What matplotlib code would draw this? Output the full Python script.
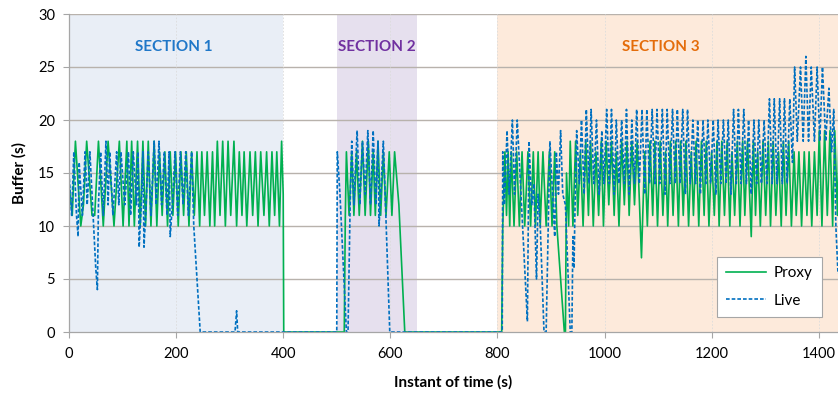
import matplotlib
matplotlib.use('Agg')  # no display
import matplotlib.pyplot as plt
from matplotlib import rcParams

rcParams['font.family'] = ['Lato', 'DejaVu Sans']

# ---- data (time s, buffer s) ----
proxy_s1 = [(0, 14), (6, 11), (12, 18), (22, 10), (27, 12), (33, 18), (43, 11), (48, 11),
            (55, 18), (64, 10), (73, 18), (84, 10), (94, 18), (101, 10), (108, 18), (112, 10),
            (117, 18), (122, 10), (128, 18), (133, 10), (138, 18), (143, 10), (148, 18), (153, 10),
            (159, 18), (164, 10), (169, 17), (174, 11), (179, 17), (184, 10), (189, 17), (194, 11),
            (199, 17), (204, 10), (209, 17), (214, 11), (219, 17), (224, 10), (229, 17), (234, 11),
            (239, 17), (244, 10), (248, 17), (253, 11), (258, 17), (263, 10), (268, 17), (272, 10),
            (277, 18), (282, 11), (287, 18), (292, 10), (297, 18), (302, 11), (308, 18), (313, 10),
            (318, 17), (323, 11), (327, 17), (332, 10), (338, 17), (343, 11), (348, 17), (353, 10),
            (358, 17), (364, 11), (369, 17), (374, 10), (379, 17), (384, 11), (388, 17), (393, 10),
            (397, 18), (400, 13), (401, 0)]
proxy_s2 = [(514, 0), (516, 11), (518, 17), (523, 11), (528, 17), (532, 11), (537, 17), (542, 11),
            (548, 18), (553, 11), (559, 18), (563, 11), (568, 17), (572, 11), (577, 18), (582, 11),
            (587, 17), (592, 11), (598, 17), (603, 11), (608, 17), (616, 12), (627, 0)]
proxy_s3 = [(808, 0), (810, 10), (814, 17), (817, 11), (820, 17), (823, 10), (826, 17), (831, 10),
            (836, 17), (841, 10), (846, 17), (851, 10), (857, 17), (862, 10), (867, 17), (871, 10),
            (876, 17), (880, 10), (885, 17), (891, 10), (897, 17), (902, 10), (907, 17), (911, 10),
            (925, 0), (927, 0), (929, 15), (933, 10), (936, 18), (941, 10), (946, 18), (950, 11),
            (955, 17), (960, 10), (965, 18), (970, 11), (974, 18), (979, 10), (984, 17), (989, 11),
            (994, 18), (998, 10), (1003, 18), (1008, 12), (1013, 18), (1018, 11), (1022, 17), (1027, 10),
            (1032, 18), (1037, 12), (1042, 18), (1046, 11), (1051, 18), (1056, 12), (1061, 18), (1069, 7),
            (1075, 17), (1080, 10), (1085, 18), (1090, 11), (1094, 18), (1099, 10), (1104, 18), (1109, 11),
            (1114, 17), (1118, 10), (1123, 18), (1128, 11), (1133, 18), (1138, 10), (1142, 18), (1147, 11),
            (1152, 18), (1157, 10), (1162, 17), (1166, 11), (1171, 18), (1176, 10), (1181, 18), (1186, 11),
            (1190, 18), (1195, 10), (1200, 17), (1205, 11), (1210, 18), (1214, 10), (1219, 18), (1224, 11),
            (1229, 18), (1234, 10), (1238, 17), (1243, 11), (1248, 18), (1253, 10), (1258, 18), (1262, 11),
            (1267, 18), (1274, 9), (1278, 18), (1282, 11), (1286, 17), (1291, 10), (1296, 18), (1301, 11),
            (1306, 18), (1310, 10), (1315, 18), (1320, 11), (1325, 17), (1330, 10), (1334, 18), (1339, 11),
            (1344, 18), (1349, 10), (1354, 17), (1358, 11), (1363, 17), (1368, 10), (1373, 17), (1378, 11),
            (1382, 17), (1387, 10), (1392, 17), (1397, 11), (1401, 19), (1406, 10), (1411, 19), (1416, 11),
            (1421, 19), (1426, 10), (1430, 19), (1435, 11), (1438, 19)]

live_s1 = [(0, 15), (5, 11), (9, 17), (14, 11), (17, 9), (19, 16), (25, 11), (30, 17), (34, 12),
           (39, 17), (45, 11), (50, 6), (53, 4), (55, 12), (59, 17), (64, 11), (69, 18), (73, 12),
           (76, 17), (82, 11), (89, 17), (93, 12), (97, 17), (104, 12), (111, 17), (115, 11), (120, 17),
           (126, 12), (129, 17), (131, 8), (135, 12), (138, 17), (140, 8), (144, 12), (148, 17), (153, 11),
           (159, 18), (163, 12), (168, 18), (173, 12), (178, 17), (183, 11), (187, 17), (189, 9), (193, 12),
           (198, 17), (203, 11), (208, 17), (213, 12), (218, 17), (223, 11), (229, 17), (233, 10), (245, 0),
           (310, 0), (313, 2), (315, 0)]
live_s2 = [(500, 0), (501, 17), (506, 13), (518, 0), (521, 0), (525, 12), (528, 18), (532, 12),
           (538, 19), (543, 12), (548, 18), (553, 13), (558, 19), (563, 12), (568, 19), (573, 12),
           (577, 18), (579, 10), (582, 13), (587, 18), (599, 0)]
live_s3 = [(808, 0), (809, 0), (810, 17), (813, 12), (818, 19), (822, 13), (828, 20), (832, 13),
           (837, 20), (856, 1), (859, 18), (864, 12), (868, 14), (873, 5), (876, 13), (880, 10),
           (887, 0), (891, 0), (898, 18), (903, 13), (907, 9), (910, 17), (914, 13), (918, 19),
           (922, 13), (927, 12), (936, 0), (939, 0), (941, 9), (943, 6), (945, 12), (948, 19),
           (953, 14), (957, 20), (962, 13), (966, 21), (971, 14), (975, 21), (980, 14), (985, 20),
           (990, 13), (995, 19), (999, 14), (1004, 21), (1009, 14), (1013, 21), (1018, 13), (1022, 20),
           (1027, 14), (1032, 20), (1037, 14), (1041, 21), (1046, 13), (1051, 20), (1056, 14), (1060, 21),
           (1065, 14), (1070, 21), (1075, 13), (1079, 21), (1084, 14), (1089, 21), (1094, 14), (1098, 21),
           (1103, 14), (1108, 21), (1113, 13), (1117, 21), (1122, 14), (1127, 21), (1132, 14), (1136, 21),
           (1141, 14), (1146, 21), (1151, 13), (1155, 21), (1160, 14), (1165, 20), (1170, 14), (1174, 20),
           (1179, 13), (1184, 20), (1189, 14), (1193, 20), (1198, 14), (1203, 20), (1208, 13), (1212, 20),
           (1217, 14), (1222, 20), (1227, 14), (1231, 20), (1236, 13), (1241, 21), (1246, 14), (1250, 21),
           (1255, 14), (1260, 21), (1265, 14), (1269, 20), (1274, 13), (1279, 20), (1284, 14), (1288, 20),
           (1293, 14), (1298, 20), (1303, 14), (1308, 22), (1313, 14), (1317, 22), (1322, 14), (1327, 22),
           (1332, 14), (1336, 22), (1341, 14), (1346, 22), (1351, 16), (1355, 25), (1360, 18), (1366, 25),
           (1371, 18), (1376, 26), (1381, 18), (1386, 25), (1392, 18), (1397, 25), (1402, 18), (1407, 25),
           (1413, 18), (1419, 23), (1424, 17), (1428, 21), (1432, 10), (1436, 5.5)]

# shaded sections: (start, end, fill colour, label, label colour, label x)
sections = [(0, 400, '#E9EEF6', 'SECTION 1', '#1F77C8', 195),
            (500, 650, '#E6E0EE', 'SECTION 2', '#7030A0', 575),
            (800, 1440, '#FDEADB', 'SECTION 3', '#E46C0A', 1105)]

x_ticks = [0, 200, 400, 600, 800, 1000, 1200, 1400]
y_ticks = [0, 5, 10, 15, 20, 25, 30]


def unzip(*parts):
    pts = [p for part in parts for p in part]
    return [p[0] for p in pts], [p[1] for p in pts]


proxy_t, proxy_y = unzip(proxy_s1, proxy_s2, proxy_s3)
live_t, live_y = unzip(live_s1, live_s2, live_s3)

fig = plt.figure(figsize=(8.38, 3.96), dpi=100)
ax = fig.add_axes([69 / 838, (396 - 332) / 396, 1 - 69 / 838, (332 - 14) / 396])

for x0, x1, fc, label, lc, lx in sections:
    ax.axvspan(x0, x1, color=fc, zorder=0, lw=0)
    ax.text(lx, 26.9, label, color=lc, fontsize=11, fontweight='bold',
            ha='center', va='center', zorder=3)

# grid
for yv in y_ticks[1:]:
    ax.axhline(yv, color='#B8B2AC', lw=1.0, zorder=1)
for xv in x_ticks[1:]:
    ax.axvline(xv, color='#DCDCDC', lw=0.6, ls=(0, (2, 2)), zorder=1)

ax.plot(proxy_t, proxy_y, color='#00B050', lw=1.2, label='Proxy', zorder=2)
ax.plot(live_t, live_y, color='#0070C0', lw=1.2, ls=(0, (2.2, 1.2)), label='Live', zorder=2.5)

ax.set_xlim(0, 1436)
ax.set_ylim(0, 30)
ax.set_xticks(x_ticks)
ax.set_yticks(y_ticks)
ax.tick_params(axis='both', labelsize=10.5, color='#A6A6A6', length=4, width=0.8)
ax.tick_params(axis='x', pad=7)
ax.tick_params(axis='y', pad=6)

for side in ['top', 'right']:
    ax.spines[side].set_visible(False)
for side in ['left', 'bottom']:
    ax.spines[side].set_color('#A6A6A6')
    ax.spines[side].set_linewidth(0.9)

ax.set_xlabel('Instant of time (s)', fontsize=11, fontweight='bold', labelpad=10)
ax.set_ylabel('Buffer (s)', fontsize=11, fontweight='bold', labelpad=8)

leg = ax.legend(loc='lower right', bbox_to_anchor=(0.983, 0.038), fontsize=11,
                frameon=True, fancybox=False, borderpad=0.6, labelspacing=0.9,
                handlelength=2.6, handletextpad=0.5, borderaxespad=0.2)
leg.get_frame().set_edgecolor('#A6A6A6')
leg.get_frame().set_linewidth(0.8)
leg.get_frame().set_facecolor('white')
leg.get_frame().set_alpha(1)

fig.savefig('out.png', dpi=100, facecolor='white')
